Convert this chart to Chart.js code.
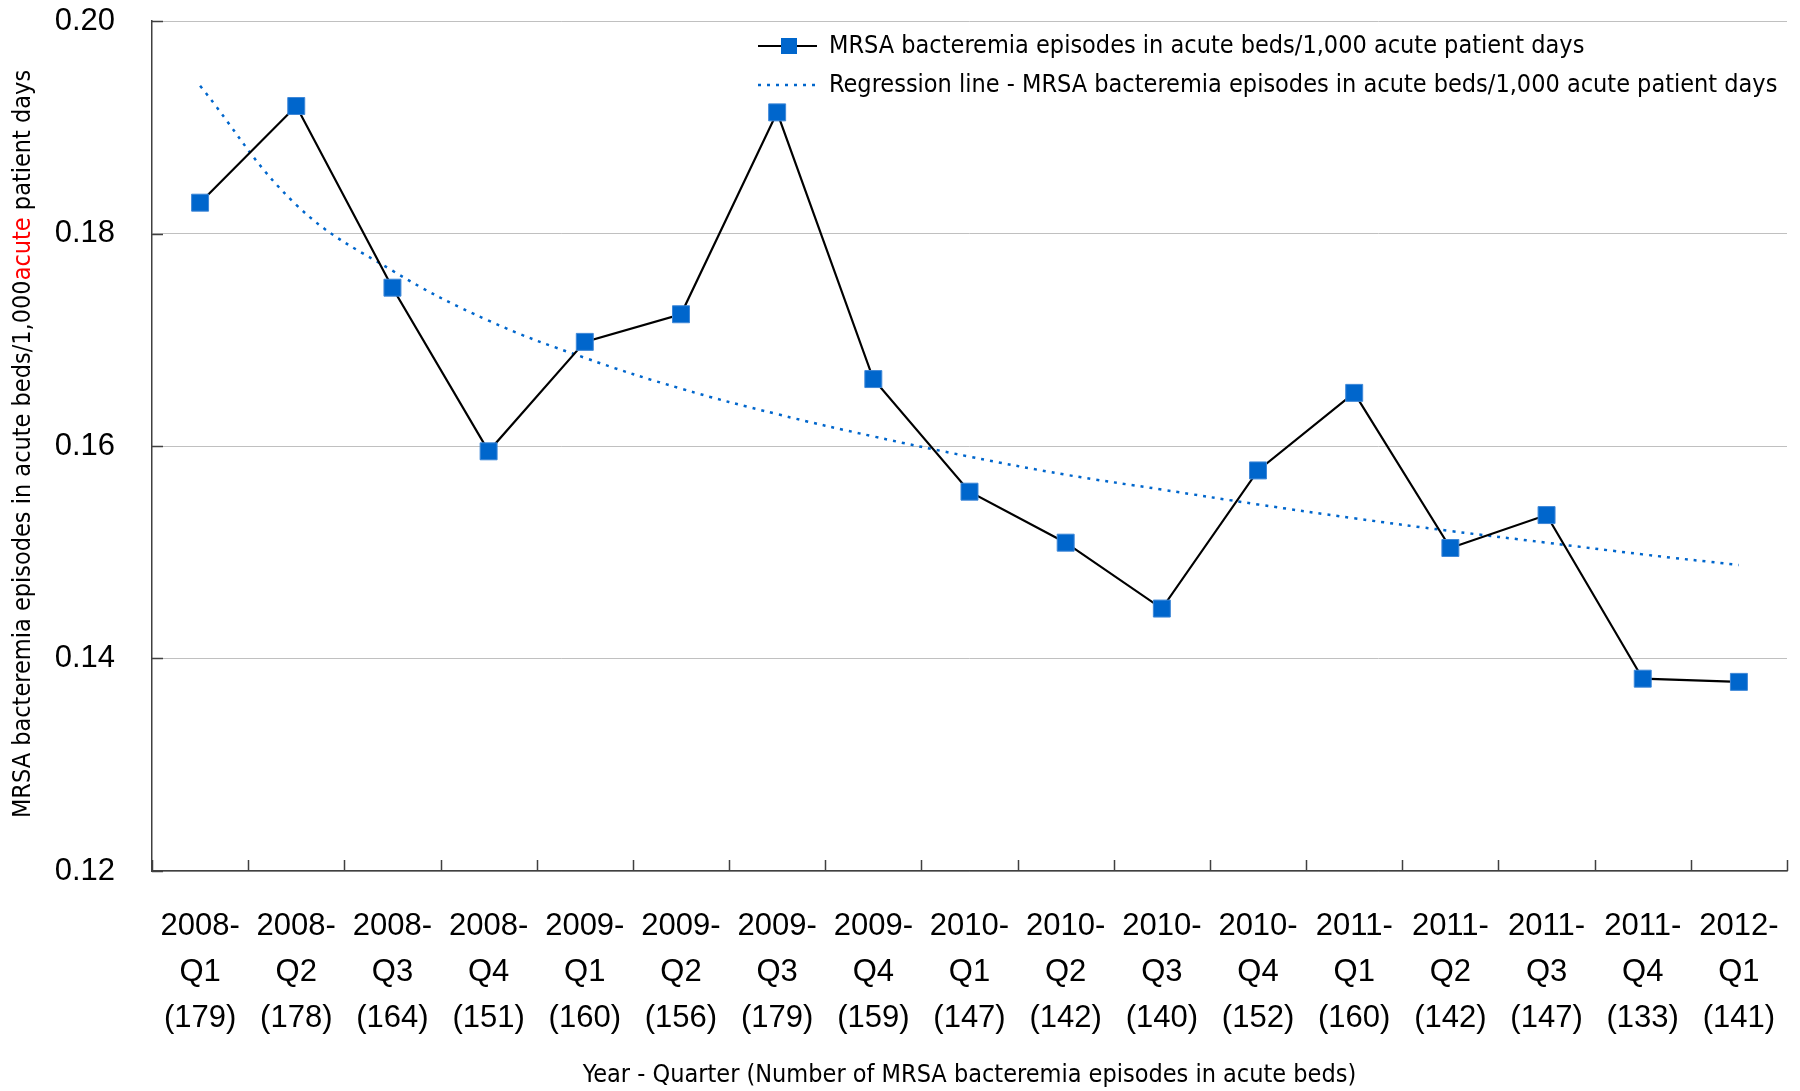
<!DOCTYPE html>
<html>
<head>
<meta charset="utf-8">
<script src="https://cdn.jsdelivr.net/npm/chart.js@4.4.1/dist/chart.umd.min.js"></script>
<style>
  html, body { margin: 0; padding: 0; background: #ffffff; }
  #wrap { width: 1800px; height: 1091px; }
</style>
</head>
<body>
<div id="wrap"><canvas id="c" width="1800" height="1091"></canvas></div>
<script>
// ---- Data ----
const years = ['2008','2008','2008','2008','2009','2009','2009','2009','2010','2010','2010','2010','2011','2011','2011','2011','2012'];
const quarters = ['Q1','Q2','Q3','Q4','Q1','Q2','Q3','Q4','Q1','Q2','Q3','Q4','Q1','Q2','Q3','Q4','Q1'];
const episodeCounts = [179,178,164,151,160,156,179,159,147,142,140,152,160,142,147,133,141];
const rateValues = [0.1829,0.1920,0.1749,0.1595,0.1698,0.1724,0.1914,0.1663,0.1557,0.1509,0.1447,0.1577,0.1650,0.1504,0.1535,0.1381,0.1378];
const regressionValues = [0.1939,0.1827,0.1765,0.1718,0.1683,0.1654,0.1630,0.1609,0.1590,0.1573,0.1559,0.1545,0.1532,0.1520,0.1509,0.1498,0.1488];
const yTicks = [0.12,0.14,0.16,0.18,0.20];
const seriesName = 'MRSA bacteremia episodes in acute beds/1,000 acute patient days';
const regressionName = 'Regression line - MRSA bacteremia episodes in acute beds/1,000 acute patient days';
const xTitle = 'Year - Quarter (Number of MRSA bacteremia episodes in acute beds)';
const yTitleParts = [
  {text: 'MRSA bacteremia episodes in acute beds/1,000', color: '#000000'},
  {text: 'acute', color: '#ff0000'},
  {text: ' patient days', color: '#000000'}
];

const labels = years.map((y, i) => [y + '-', quarters[i], '(' + episodeCounts[i] + ')']);

const NARROW = "'Liberation Sans Narrow', 'Arial Narrow', 'DejaVu Sans Condensed', sans-serif";
const SANS = "'Liberation Sans', Arial, sans-serif";
const MARKER = '#0066cc';

const decorPlugin = {
  id: 'decor',
  afterDraw(chart) {
    const ctx = chart.ctx;
    const xs = chart.scales.x, ys = chart.scales.y;
    const area = chart.chartArea;
    ctx.save();
    // inward tick marks
    ctx.strokeStyle = '#404040';
    ctx.lineWidth = 1.5;
    ctx.beginPath();
    for (let i = 0; i <= labels.length; i++) {
      const px = Math.round(xs.getPixelForValue(i - 0.5)) + 0.5;
      ctx.moveTo(px, area.bottom);
      ctx.lineTo(px, area.bottom - 11);
    }
    yTicks.forEach(v => {
      const py = Math.round(ys.getPixelForValue(v)) + 0.5;
      ctx.moveTo(area.left, py);
      ctx.lineTo(area.left + 11, py);
    });
    ctx.stroke();

    // x title
    ctx.fillStyle = '#000';
    ctx.font = "25px " + NARROW;
    ctx.textAlign = 'center';
    ctx.textBaseline = 'middle';
    ctx.fillText(xTitle, (area.left + area.right) / 2, 1075);

    // y title (rotated, multi-colour)
    ctx.save();
    ctx.translate(23, 444);
    ctx.rotate(-Math.PI / 2);
    ctx.font = "25px " + NARROW;
    ctx.textBaseline = 'middle';
    ctx.textAlign = 'left';
    const total = yTitleParts.reduce((s, p) => s + ctx.measureText(p.text).width, 0);
    let cx = -total / 2;
    yTitleParts.forEach(p => {
      ctx.fillStyle = p.color;
      ctx.fillText(p.text, cx, 0);
      cx += ctx.measureText(p.text).width;
    });
    ctx.restore();

    // legend
    ctx.font = "25px " + NARROW;
    ctx.textAlign = 'left';
    ctx.textBaseline = 'middle';
    const lx0 = 758, lx1 = 817, tx = 829;
    const r1 = 46, r2 = 85;
    ctx.strokeStyle = '#000';
    ctx.lineWidth = 2;
    ctx.setLineDash([]);
    ctx.beginPath(); ctx.moveTo(lx0, r1); ctx.lineTo(lx1, r1); ctx.stroke();
    ctx.fillStyle = MARKER;
    ctx.fillRect(789 - 8, r1 - 8, 16, 16);
    ctx.strokeStyle = MARKER;
    ctx.lineWidth = 2.5;
    ctx.setLineDash([3, 6]);
    ctx.beginPath(); ctx.moveTo(lx0, r2); ctx.lineTo(lx1, r2); ctx.stroke();
    ctx.setLineDash([]);
    ctx.fillStyle = '#000';
    ctx.fillText(seriesName, tx, r1);
    ctx.fillText(regressionName, tx, r2);
    ctx.restore();
  }
};

new Chart(document.getElementById('c'), {
  type: 'line',
  data: {
    labels: labels,
    datasets: [
      {
        label: seriesName,
        data: rateValues,
        borderColor: '#000000',
        borderWidth: 2.2,
        backgroundColor: MARKER,
        pointStyle: 'rect',
        pointRadius: 12,
        pointHoverRadius: 12,
        pointBackgroundColor: MARKER,
        pointBorderColor: '#3f88d8',
        pointBorderWidth: 1,
        tension: 0,
        fill: false
      },
      {
        label: regressionName,
        data: regressionValues,
        borderColor: MARKER,
        borderWidth: 2.5,
        borderDash: [3, 6],
        pointRadius: 0,
        pointHoverRadius: 0,
        tension: 0.4,
        fill: false
      }
    ]
  },
  options: {
    responsive: false,
    animation: false,
    devicePixelRatio: 1,
    layout: { padding: { top: 21, right: 5, left: 0, bottom: 0 } },
    plugins: {
      legend: { display: false },
      tooltip: { enabled: false }
    },
    scales: {
      x: {
        type: 'category',
        offset: true,
        grid: { display: false, drawTicks: false },
        border: { display: true, color: '#404040', width: 1.5 },
        ticks: {
          color: '#000',
          font: { family: SANS, size: 31, lineHeight: 1.48 },
          padding: 33,
          maxRotation: 0,
          autoSkip: false
        },
        afterFit(scale) { scale.height = 220; scale.paddingLeft = 0; scale.paddingRight = 0; }
      },
      y: {
        min: 0.12,
        max: 0.20,
        afterBuildTicks(scale) { scale.ticks = yTicks.map(v => ({ value: v })); },
        grid: { color: '#c0c0c0', lineWidth: 1, drawTicks: false },
        border: { display: true, color: '#404040', width: 1.5 },
        ticks: {
          color: '#000',
          font: { family: SANS, size: 31 },
          padding: 37,
          callback: (v) => Number(v).toFixed(2)
        },
        afterFit(scale) { scale.width = 152; scale.paddingTop = 0; scale.paddingBottom = 0; }
      }
    }
  },
  plugins: [decorPlugin]
});
</script>
</body>
</html>
